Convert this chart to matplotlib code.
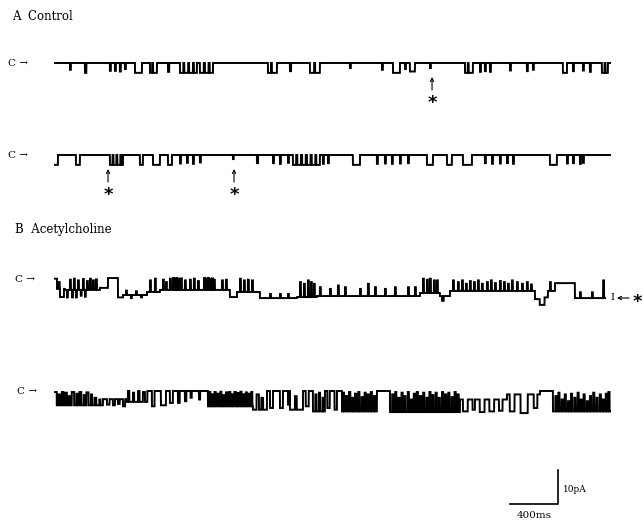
import numpy as np
import matplotlib.pyplot as plt

# ---- data (times in ms, currents in pA; openings are inward / downward) ----

# A. Control: brief openings (start ms, end ms, amplitude pA), closed level = 0
control_1 = [
    (125, 133, -2.0), (250, 262, -2.9), (458, 466, -2.3), (500, 508, -2.3),
    (541, 549, -2.5), (583, 591, -1.8), (667, 725, -2.9), (792, 810, -2.9),
    (818, 850, -2.9), (942, 952, -2.6), (1042, 1070, -2.9), (1078, 1110, -2.9),
    (1118, 1150, -2.9), (1158, 1183, -2.9), (1208, 1240, -2.9), (1250, 1280, -2.9),
    (1290, 1317, -2.9), (1775, 1800, -2.9), (1808, 1850, -2.9), (1958, 1968, -2.4),
    (2125, 2160, -2.9), (2168, 2208, -2.9), (2458, 2466, -1.5), (2725, 2733, -2.0),
    (2817, 2875, -2.9), (2917, 2925, -1.8), (2958, 3000, -2.5), (3125, 3133, -1.5),
    (3417, 3440, -2.9), (3448, 3483, -2.9), (3542, 3550, -2.6), (3583, 3591, -2.4),
    (3625, 3633, -2.6), (3792, 3800, -2.2), (3933, 3941, -2.4), (3983, 3991, -2.0),
    (4233, 4267, -2.9), (4317, 4325, -2.4), (4400, 4408, -2.2), (4458, 4466, -2.6),
    (4558, 4580, -2.9), (4588, 4608, -2.9),
]
control_2 = [
    (0, 25, -2.9), (175, 208, -2.9), (458, 480, -2.9), (488, 512, -2.9),
    (520, 545, -2.9), (552, 567, -2.9), (708, 733, -2.9), (817, 875, -2.9),
    (942, 975, -2.9), (1042, 1050, -2.5), (1100, 1108, -2.3), (1150, 1158, -2.6),
    (1208, 1216, -2.2), (1483, 1490, -1.2), (1683, 1693, -2.4), (1817, 1825, -2.4),
    (1875, 1883, -2.6), (1942, 1950, -2.3), (1983, 2010, -2.9), (2020, 2050, -2.9),
    (2060, 2090, -2.9), (2100, 2130, -2.9), (2140, 2170, -2.9), (2178, 2208, -2.9),
    (2233, 2241, -2.6), (2275, 2283, -2.4), (2483, 2542, -2.9), (2683, 2691, -2.6),
    (2750, 2758, -2.5), (2808, 2816, -2.6), (2875, 2883, -2.5), (2942, 2950, -2.4),
    (3100, 3150, -2.9), (3267, 3308, -2.9), (3400, 3475, -2.9), (3583, 3591, -2.4),
    (3642, 3650, -2.6), (3708, 3716, -2.5), (3767, 3775, -2.4), (3817, 3825, -2.6),
    (4125, 4183, -2.9), (4267, 4275, -2.5), (4317, 4325, -2.4), (4375, 4383, -2.6),
    (4400, 4408, -2.3),
]
control_ends = [4625, 4625]
control_marks = [[3142], [442, 1492]]   # asterisked events (ms)

# B. Acetylcholine: dwell levels (start ms, level pA) + brief flickers (start, end, level)
ach_1_levels = [
    (0, -3.5), (83, -3.8), (375, -3.2), (442, -0.3), (525, -6.0), (567, -5.3),
    (767, -4.4), (875, -3.8), (1458, -5.9), (1517, -4.4), (1708, -6.2), (2017, -5.9),
    (2183, -5.6), (3042, -4.7), (3208, -5.6), (3292, -4.1), (4000, -6.5), (4040, -8.2),
    (4080, -6.0), (4108, -4.1), (4167, -1.8), (4333, -6.2),
]
ach_1_flicks = [
    (0, 17, -0.5), (25, 40, -1.5), (42, 75, -5.9), (100, 108, -6.0), (125, 133, -0.8),
    (142, 150, -6.0), (158, 166, -0.5), (175, 183, -6.0), (192, 200, -1.0), (215, 222, -5.5),
    (233, 241, -0.6), (250, 257, -5.8), (267, 275, -1.2), (292, 300, -0.5), (317, 325, -1.0),
    (342, 350, -0.7), (592, 600, -4.0), (633, 641, -6.2),
    (675, 683, -4.2), (717, 725, -6.0), (792, 800, -1.0), (833, 841, -0.5), (900, 908, -0.8),
    (925, 933, -1.5), (958, 966, -0.5), (983, 992, -0.3), (998, 1006, -0.5), (1012, 1022, -0.3),
    (1030, 1040, -0.6), (1048, 1058, -0.4), (1083, 1091, -1.0), (1125, 1133, -0.8),
    (1158, 1166, -0.5), (1192, 1200, -1.2), (1242, 1250, -0.3), (1258, 1266, -0.5),
    (1275, 1285, -0.3), (1292, 1300, -0.6), (1308, 1316, -0.4), (1325, 1333, -0.8),
    (1392, 1400, -1.0), (1425, 1433, -0.8), (1542, 1550, -0.5), (1575, 1583, -1.0),
    (1608, 1616, -0.8), (1642, 1650, -1.0), (1792, 1800, -5.0), (1875, 1883, -5.0),
    (1942, 1950, -5.0), (2042, 2050, -1.5), (2075, 2083, -2.0), (2108, 2116, -1.0),
    (2133, 2141, -1.5), (2158, 2166, -2.0), (2208, 2216, -3.0), (2292, 2300, -3.5),
    (2358, 2366, -2.5), (2417, 2425, -3.0), (2542, 2550, -3.5), (2608, 2616, -2.0),
    (2667, 2675, -3.0), (2750, 2758, -3.5), (2833, 2841, -3.0), (2942, 2950, -3.0),
    (3000, 3008, -3.0), (3067, 3075, -0.5), (3100, 3108, -0.8), (3125, 3133, -0.5),
    (3158, 3166, -1.0), (3183, 3191, -1.0), (3225, 3240, -7.0), (3317, 3325, -1.0),
    (3358, 3366, -1.5), (3392, 3400, -1.0), (3425, 3433, -2.0), (3458, 3466, -1.2),
    (3492, 3500, -1.5), (3525, 3533, -1.0), (3558, 3566, -2.0), (3600, 3608, -1.5),
    (3633, 3641, -1.0), (3667, 3675, -1.8), (3708, 3716, -1.2), (3742, 3750, -1.5),
    (3775, 3783, -2.0), (3808, 3816, -1.0), (3850, 3858, -1.5), (3892, 3900, -2.0),
    (3933, 3941, -1.5), (3967, 3975, -2.2), (4125, 4133, -1.5), (4375, 4383, -4.5),
    (4475, 4483, -4.5), (4568, 4576, -1.0),
]
ach_2_levels = [
    (0, -4.2), (400, -2.4), (600, -3.2), (792, 0.0), (1275, -4.5), (1650, -5.5),
    (1767, 0.0), (1958, -5.5), (2067, 0.0), (2150, -6.0), (2250, 0.0), (2392, -6.0),
    (2683, 0.0), (2792, -6.2), (3375, -2.5), (3767, -1.0), (4042, 0.0), (4150, -6.0),
]
ach_2_flicks = [
    (0, 15, -0.3), (30, 45, -1.0), (58, 70, -0.3), (85, 100, -0.5), (115, 125, -1.5),
    (140, 160, -0.3), (178, 190, -0.8), (205, 220, -0.3), (240, 250, -1.2), (262, 280, -0.4),
    (300, 310, -1.0), (330, 345, -2.0), (370, 380, -2.5), (433, 455, -4.0), (483, 500, -4.2),
    (525, 540, -3.8), (567, 585, -4.5), (608, 620, 0.0), (650, 660, -0.5), (692, 705, 0.0),
    (733, 750, -0.3), (770, 792, 0.0), (808, 830, -4.5), (883, 925, -4.2), (958, 983, -3.5),
    (1025, 1040, -3.5), (1083, 1095, -3.0), (1130, 1140, -2.0), (1200, 1210, -2.5),
    (1285, 1295, -0.3), (1305, 1318, -1.0), (1330, 1340, -0.3), (1352, 1365, -0.8),
    (1378, 1388, -0.2), (1400, 1412, -1.2), (1425, 1435, -0.4), (1450, 1462, -0.3),
    (1475, 1485, -1.0), (1495, 1508, -0.3), (1520, 1530, -0.6), (1545, 1555, -0.2),
    (1565, 1578, -1.0), (1590, 1600, -0.4), (1612, 1625, -0.8), (1635, 1645, -0.3),
    (1680, 1700, -1.0), (1720, 1735, -2.0), (1792, 1817, -5.0), (1875, 1900, -5.0),
    (1942, 1955, -4.0), (2000, 2015, -1.5), (2090, 2115, -4.5), (2170, 2180, -1.0),
    (2200, 2210, -0.5), (2230, 2240, -2.0), (2270, 2290, -5.0), (2330, 2350, -5.5),
    (2400, 2410, -0.5), (2425, 2435, -1.5), (2450, 2462, -0.3), (2478, 2488, -2.0),
    (2500, 2512, -0.8), (2528, 2538, -0.3), (2555, 2565, -1.8), (2580, 2590, -0.5),
    (2605, 2618, -1.0), (2632, 2642, -0.3), (2658, 2668, -1.5), (2810, 2820, -1.0),
    (2835, 2845, -0.3), (2860, 2872, -2.0), (2888, 2898, -0.5), (2912, 2922, -1.5),
    (2940, 2950, -0.3), (2965, 2975, -2.5), (2990, 3000, -0.8), (3015, 3025, -0.3),
    (3040, 3052, -1.5), (3068, 3078, -0.5), (3095, 3105, -2.0), (3120, 3130, -0.3),
    (3145, 3155, -1.2), (3172, 3182, -0.5), (3198, 3208, -2.0), (3225, 3235, -0.3),
    (3250, 3262, -1.0), (3278, 3288, -0.5), (3305, 3315, -1.8), (3330, 3340, -0.3),
    (3355, 3365, -1.0), (3400, 3440, -6.0), (3480, 3500, -5.5), (3540, 3580, -6.2),
    (3620, 3660, -6.0), (3700, 3730, -5.8), (3790, 3830, -6.0), (3880, 3940, -6.5),
    (3990, 4020, -5.0), (4170, 4180, -1.5), (4195, 4205, -0.5), (4222, 4232, -2.5),
    (4248, 4258, -1.0), (4275, 4285, -3.0), (4300, 4310, -0.8), (4328, 4338, -2.0),
    (4355, 4365, -0.5), (4380, 4390, -2.5), (4405, 4415, -1.0), (4432, 4442, -3.0),
    (4458, 4468, -1.5), (4485, 4495, -0.5), (4512, 4522, -2.0), (4540, 4550, -1.0),
    (4565, 4575, -2.5), (4590, 4600, -0.8), (4612, 4622, -0.3),
]
ach_ends = [4583, 4625]

scale_ms = 400
scale_pa = 10

# ---- layout (pixels of the 643x524 figure) ----
MS_PER_PX = 400 / 48
PA_PER_PX = 10 / 34
X0_PX = 55                       # where every trace starts
rows_px = [63, 155, 277, 391]    # closed level of each trace


def px(x, y):
    return (x - X0_PX) * MS_PER_PX, -y * PA_PER_PX


def build(levels, flicks, t_end):
    t = np.arange(0, t_end + 1)
    y = np.zeros(len(t))
    starts = [s for s, _ in levels] + [t_end + 1]
    for (s, lev), e in zip(levels, starts[1:]):
        y[(t >= s) & (t < e)] = lev
    for s, e, lev in flicks:
        y[(t >= s) & (t < e)] = lev
    return t, y


fig = plt.figure(figsize=(6.43, 5.24), dpi=100)
ax = fig.add_axes([0, 0, 1, 1])
ax.set_xlim(px(0, 0)[0], px(643, 0)[0])
ax.set_ylim(-524 * PA_PER_PX, 0)
ax.axis('off')

traces = [
    build([(0, 0.0)], control_1, control_ends[0]),
    build([(0, 0.0)], control_2, control_ends[1]),
    build(ach_1_levels, ach_1_flicks, ach_ends[0]),
    build(ach_2_levels, ach_2_flicks, ach_ends[1]),
]
for (t, y), row in zip(traces, rows_px):
    base = px(0, row)[1]
    ax.plot(t, base + y, color='black', lw=1.4, solid_joinstyle='miter')

serif = 'DejaVu Serif'
ax.text(*px(12, 16), 'A  Control', fontsize=8.5, family=serif, va='center')
ax.text(*px(15, 229), 'B  Acetylcholine', fontsize=8.5, family=serif, va='center')

for (cx, cy) in [(8, 63), (8, 156), (15, 280), (17, 391)]:
    ax.text(*px(cx, cy), 'C →', fontsize=7.5, family=serif, va='center')

# asterisks with arrows under the control traces
for marks, row in zip(control_marks, rows_px[:2]):
    for tm in marks:
        xm = tm / MS_PER_PX + X0_PX
        ax.annotate('', xy=px(xm, row + 14), xytext=px(xm, row + 27),
                    arrowprops=dict(arrowstyle='->', lw=0.8, color='black',
                                    shrinkA=0, shrinkB=0, mutation_scale=6))
        ax.text(*px(xm, row + 40), '*', fontsize=13, fontweight='bold',
                ha='center', va='center')

# sub-level marker at the end of the first acetylcholine trace
ax.text(*px(612, 298), 'I', fontsize=7, family=serif, ha='center', va='center')
ax.annotate('', xy=px(617, 298), xytext=px(629, 298),
            arrowprops=dict(arrowstyle='->', lw=0.8, color='black',
                            shrinkA=0, shrinkB=0, mutation_scale=6))
ax.text(*px(637, 302), '*', fontsize=13, fontweight='bold', ha='center', va='center')

# scale bar
cx, cy = px(558, 504)
ax.plot([cx - scale_ms, cx, cx], [cy, cy, cy + scale_pa], color='black', lw=1.2)
ax.text(*px(563, 489), f'{scale_pa}pA', fontsize=6.5, family=serif, va='center')
ax.text(*px(534, 515), f'{scale_ms}ms', fontsize=7.5, family=serif, ha='center', va='center')

plt.savefig('out.png', dpi=100)
